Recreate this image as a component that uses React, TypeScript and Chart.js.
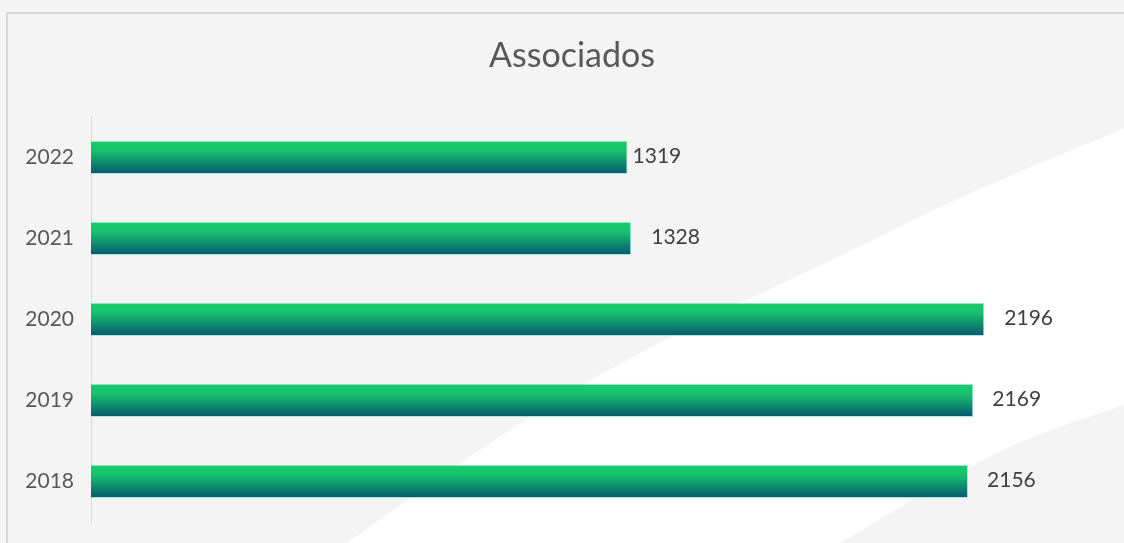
import React, { useEffect, useRef } from 'react';
import { Chart, registerables } from 'chart.js';

Chart.register(...registerables);

const categories: string[] = ['2022', '2021', '2020', '2019', '2018'];
const associados: number[] = [1319, 1328, 2196, 2169, 2156];
const chartTitle = 'Associados';
const xMin = 0;
const xMax = 2500;

const labelOffsets = [5, 20, 20, 19, 19];
const FONT = 'Lato, "Open Sans", sans-serif';

function smoothPath(ctx: CanvasRenderingContext2D, pts: number[][], start: boolean) {
  if (start) ctx.moveTo(pts[0][0], pts[0][1]);
  else ctx.lineTo(pts[0][0], pts[0][1]);
  for (let i = 1; i < pts.length - 1; i++) {
    const mx = (pts[i][0] + pts[i + 1][0]) / 2;
    const my = (pts[i][1] + pts[i + 1][1]) / 2;
    ctx.quadraticCurveTo(pts[i][0], pts[i][1], mx, my);
  }
  const last = pts[pts.length - 1];
  ctx.lineTo(last[0], last[1]);
}

const backgroundPlugin = {
  id: 'slideBackground',
  afterLayout(chart: any) {
    // centre the title over the slide frame rather than the padded canvas
    if (chart.titleBlock) {
      chart.titleBlock.left = 20;
      chart.titleBlock.right = chart.width;
    }
  },
  beforeDraw(chart: any) {
    const { ctx, width, height } = chart;
    ctx.save();
    ctx.fillStyle = '#f4f4f4';
    ctx.fillRect(0, 0, width, height);
    // white swoosh band
    const upper = [[340, 548], [470, 455], [600, 373], [720, 312], [833, 260], [967, 193], [1130, 126]];
    const lower = [[1130, 403], [1060, 426], [1000, 450], [920, 495], [832, 548]];
    ctx.fillStyle = '#ffffff';
    ctx.beginPath();
    smoothPath(ctx, upper, true);
    smoothPath(ctx, lower, false);
    ctx.closePath();
    ctx.fill();
    // frame
    ctx.strokeStyle = '#d9d9d9';
    ctx.lineWidth = 2;
    ctx.beginPath();
    ctx.moveTo(7, height + 5);
    ctx.lineTo(7, 13);
    ctx.lineTo(width + 5, 13);
    ctx.stroke();
    ctx.restore();
  },
};

const valueLabelPlugin = {
  id: 'valueLabels',
  afterDatasetsDraw(chart: any) {
    const { ctx } = chart;
    const meta = chart.getDatasetMeta(0);
    ctx.save();
    ctx.font = `21px ${FONT}`;
    ctx.fillStyle = '#404040';
    ctx.textAlign = 'left';
    ctx.textBaseline = 'middle';
    meta.data.forEach((el: any, i: number) => {
      const v = chart.data.datasets[0].data[i];
      ctx.fillText(String(v), el.x + (labelOffsets[i] ?? 10), el.y - 1);
    });
    ctx.restore();
  },
};

export default function App() {
  const canvasRef = useRef<HTMLCanvasElement | null>(null);

  useEffect(() => {
    if (!canvasRef.current) return;
    const chart = new Chart(canvasRef.current, {
      type: 'bar',
      data: {
        labels: categories,
        datasets: [
          {
            label: chartTitle,
            data: associados,
            backgroundColor: (c: any) => {
              const ch = c.chart;
              const ys = ch.scales && ch.scales.y;
              if (!ys || c.dataIndex == null) return '#17c26d';
              const yc = ys.getPixelForValue(c.dataIndex);
              const h = ((ys.height / categories.length) * 0.41) / 2;
              if (!Number.isFinite(yc) || !Number.isFinite(h) || h <= 0) return '#17c26d';
              const g = ch.ctx.createLinearGradient(0, yc - h, 0, yc + h);
              g.addColorStop(0, '#1acb6b');
              g.addColorStop(0.3, '#17c16d');
              g.addColorStop(1, '#065670');
              return g;
            },
            borderColor: 'rgba(150,225,205,0.75)',
            borderWidth: 1,
            barPercentage: 0.41,
            categoryPercentage: 1,
          },
        ],
      },
      options: {
        indexAxis: 'y',
        animation: false,
        responsive: false,
        maintainAspectRatio: false,
        devicePixelRatio: 1,
        layout: { padding: { top: 0, bottom: 21, left: 0, right: 16 } },
        plugins: {
          legend: { display: false },
          tooltip: { enabled: false },
          title: {
            display: true,
            text: chartTitle,
            color: '#595959',
            font: { family: FONT, size: 34, weight: 'normal', lineHeight: 1.2 },
            padding: { top: 36, bottom: 40 },
          },
        },
        scales: {
          x: {
            display: false,
            min: xMin,
            max: xMax,
          },
          y: {
            afterFit: (scale: any) => {
              scale.width = 91;
              scale.paddingTop = 0;
              scale.paddingBottom = 0;
            },
            grid: { display: false, drawTicks: false },
            border: { display: true, color: '#d9d9d9', width: 1 },
            ticks: {
              color: '#595959',
              padding: 17,
              font: { family: FONT, size: 21 },
            },
          },
        },
      },
      plugins: [backgroundPlugin, valueLabelPlugin],
    });
    return () => chart.destroy();
  }, []);

  return (
    <div style={{ position: 'fixed', left: 0, top: 0, width: 1124, height: 543 }}>
      <canvas ref={canvasRef} width={1124} height={543} style={{ display: 'block' }} />
    </div>
  );
}
